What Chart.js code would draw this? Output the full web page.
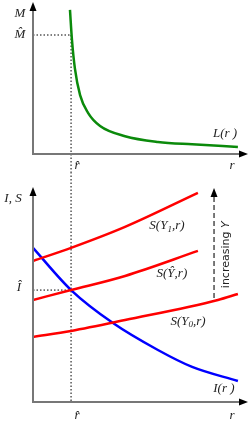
<!DOCTYPE html>
<html>
<head>
<meta charset="utf-8">
<script src="https://cdn.jsdelivr.net/npm/chart.js@4"></script>
<style>
  html, body { margin: 0; padding: 0; background: #fff; }
  #wrap { position: relative; width: 250px; height: 429px; }
  #moneyChart { position: absolute; left: 0; top: 0; }
  #savingChart { position: absolute; left: 0; top: 172px; }
</style>
</head>
<body>
<div id="wrap">
  <canvas id="moneyChart" width="250" height="172"></canvas>
  <canvas id="savingChart" width="250" height="257"></canvas>
</div>
<script>
// --- data (r on 0..10, M / I,S on 0..10) ---
// money demand L(r)
const lR = [1.72, 1.81, 1.95, 2.19, 2.56, 3.12, 4.28, 5.81, 7.40, 9.53];
const lM = [9.54, 7.6, 5.65, 3.9, 2.72, 1.85, 1.18, 0.80, 0.64, 0.47];

// savings S(Y1,r), S(Ŷ,r), S(Y0,r)
const s1R = [0, 1.77, 4.28, 7.67];
const s1 = [6.59, 7.20, 8.18, 9.77];
const sHatR = [0, 1.77, 4.28, 7.67];
const sHat = [4.77, 5.23, 5.89, 7.06];
const s0R = [0, 1.77, 4.28, 8.60, 9.53];
const s0 = [3.04, 3.32, 3.83, 4.77, 5.05];

// investment I(r)
const iR = [0, 1.77, 3.72, 5.81, 7.40, 9.53];
const iVals = [7.20, 5.23, 3.69, 2.43, 1.64, 0.98];

// equilibrium
const rHat = 1.77;
const mHat = 7.88;
const iHat = 5.23;

const axisColor = '#777777';
const serif = "'Liberation Serif', 'DejaVu Serif', serif";

function pts(xs, ys) {
  return xs.map((x, i) => ({ x: x, y: ys[i] }));
}

function curve(data, color) {
  return {
    data: data,
    borderColor: color,
    borderWidth: 2.5,
    pointRadius: 0,
    fill: false,
    cubicInterpolationMode: 'monotone',
  };
}

function arrowHead(ctx, x, y, dir) {
  ctx.beginPath();
  if (dir === 'up') {
    ctx.moveTo(x, y);
    ctx.lineTo(x - 3.5, y + 9);
    ctx.lineTo(x + 3.5, y + 9);
  } else {
    ctx.moveTo(x, y);
    ctx.lineTo(x - 9, y - 3.5);
    ctx.lineTo(x - 9, y + 3.5);
  }
  ctx.closePath();
  ctx.fill();
}

// draws text made of pieces, some of them subscripts, centred on (cx, cy)
function richText(ctx, pieces, cx, cy, size) {
  const big = 'italic ' + size + 'px ' + serif;
  const small = 'italic ' + Math.round(size * 0.72) + 'px ' + serif;
  let w = 0;
  pieces.forEach(p => {
    ctx.font = p.sub ? small : big;
    w += ctx.measureText(p.t).width;
  });
  let x = cx - w / 2;
  ctx.textBaseline = 'middle';
  ctx.textAlign = 'left';
  pieces.forEach(p => {
    ctx.font = p.sub ? small : big;
    ctx.fillText(p.t, x, p.sub ? cy + size * 0.3 : cy);
    x += ctx.measureText(p.t).width;
  });
}

function dotted(ctx, x1, y1, x2, y2) {
  ctx.save();
  ctx.strokeStyle = '#000';
  ctx.lineWidth = 1;
  ctx.setLineDash([1.5, 2]);
  ctx.beginPath();
  ctx.moveTo(x1, y1);
  ctx.lineTo(x2, y2);
  ctx.stroke();
  ctx.restore();
}

function drawAxes(ctx, a) {
  ctx.save();
  ctx.strokeStyle = axisColor;
  ctx.lineWidth = 2;
  ctx.beginPath();
  ctx.moveTo(a.left, a.top + 4);
  ctx.lineTo(a.left, a.bottom);
  ctx.lineTo(a.right - 4, a.bottom);
  ctx.stroke();
  ctx.fillStyle = '#000';
  arrowHead(ctx, a.left, a.top - 1, 'up');
  arrowHead(ctx, a.right, a.bottom, 'right');
  ctx.restore();
}

const moneyGuides = {
  id: 'moneyGuides',
  beforeDatasetsDraw(chart) {
    const { ctx, chartArea: a, scales: { x, y } } = chart;
    const px = x.getPixelForValue(rHat);
    const py = y.getPixelForValue(mHat);
    dotted(ctx, a.left, py, px, py);
    dotted(ctx, px, py, px, chart.height);
  },
  afterDatasetsDraw(chart) {
    const { ctx, chartArea: a, scales: { x, y } } = chart;
    drawAxes(ctx, a);
    ctx.save();
    ctx.fillStyle = '#222';
    richText(ctx, [{ t: 'M' }], a.left - 13, y.getPixelForValue(9.3), 13);
    richText(ctx, [{ t: 'M\u0302' }], a.left - 13, y.getPixelForValue(mHat), 13);
    richText(ctx, [{ t: 'r\u0302' }], x.getPixelForValue(rHat) + 6, a.bottom + 12, 13);
    richText(ctx, [{ t: 'L(r )' }], x.getPixelForValue(8.93), y.getPixelForValue(1.35), 13);
    richText(ctx, [{ t: 'r' }], x.getPixelForValue(9.26), a.bottom + 12, 13);
    ctx.restore();
  },
};

const savingGuides = {
  id: 'savingGuides',
  beforeDatasetsDraw(chart) {
    const { ctx, chartArea: a, scales: { x, y } } = chart;
    const px = x.getPixelForValue(rHat);
    const py = y.getPixelForValue(iHat);
    dotted(ctx, a.left, py, px, py);
    dotted(ctx, px, 0, px, a.bottom);
  },
  afterDatasetsDraw(chart) {
    const { ctx, chartArea: a, scales: { x, y } } = chart;
    drawAxes(ctx, a);

    // dashed "increasing Y" arrow
    const ax = x.getPixelForValue(8.42);
    ctx.save();
    ctx.strokeStyle = '#333';
    ctx.lineWidth = 1.3;
    ctx.setLineDash([5, 3]);
    ctx.beginPath();
    ctx.moveTo(ax, y.getPixelForValue(4.86));
    ctx.lineTo(ax, a.top + 8);
    ctx.stroke();
    ctx.fillStyle = '#000';
    arrowHead(ctx, ax, a.top, 'up');
    ctx.restore();

    ctx.save();
    ctx.fillStyle = '#222';
    richText(ctx, [{ t: 'I, S' }], a.left - 20, y.getPixelForValue(9.5), 13);
    richText(ctx, [{ t: 'I\u0302' }], a.left - 14, y.getPixelForValue(iHat) - 2, 13);
    richText(ctx, [{ t: 'r\u0302' }], x.getPixelForValue(rHat) + 6, a.bottom + 14, 13);
    richText(ctx, [{ t: 'r' }], x.getPixelForValue(9.26), a.bottom + 14, 13);
    richText(ctx, [{ t: 'S(Y' }, { t: '1', sub: true }, { t: ',r)' }], x.getPixelForValue(6.23), y.getPixelForValue(8.23), 13);
    richText(ctx, [{ t: 'S(Y\u0302,r)' }], x.getPixelForValue(6.46), y.getPixelForValue(6.0), 13);
    richText(ctx, [{ t: 'S(Y' }, { t: '0', sub: true }, { t: ',r)' }], x.getPixelForValue(7.21), y.getPixelForValue(3.78), 13);
    richText(ctx, [{ t: 'I(r )' }], x.getPixelForValue(8.88), y.getPixelForValue(0.65), 13);

    // rotated "increasing Y"
    ctx.translate(x.getPixelForValue(8.98), y.getPixelForValue(6.88));
    ctx.rotate(-Math.PI / 2);
    ctx.textBaseline = 'middle';
    ctx.font = "11px 'DejaVu Sans', sans-serif";
    const w1 = ctx.measureText('increasing ').width;
    ctx.font = "italic 11px 'DejaVu Sans', sans-serif";
    const w2 = ctx.measureText('Y').width;
    ctx.font = "11px 'DejaVu Sans', sans-serif";
    ctx.fillText('increasing ', -(w1 + w2) / 2, 0);
    ctx.font = "italic 11px 'DejaVu Sans', sans-serif";
    ctx.fillText('Y', -(w1 + w2) / 2 + w1, 0);
    ctx.restore();
  },
};

function baseOptions(padding) {
  return {
    responsive: false,
    animation: false,
    layout: { padding: padding },
    plugins: { legend: { display: false }, tooltip: { enabled: false } },
    scales: {
      x: { type: 'linear', min: 0, max: 10, display: false },
      y: { type: 'linear', min: 0, max: 10, display: false },
    },
  };
}

new Chart(document.getElementById('moneyChart'), {
  type: 'line',
  data: {
    datasets: [curve(pts(lR, lM), '#0b8a0b')],
  },
  options: baseOptions({ left: 33, right: 2, top: 3, bottom: 18 }),
  plugins: [moneyGuides],
});

new Chart(document.getElementById('savingChart'), {
  type: 'line',
  data: {
    datasets: [
      curve(pts(s1R, s1), '#ff0000'),
      curve(pts(sHatR, sHat), '#ff0000'),
      curve(pts(s0R, s0), '#ff0000'),
      curve(pts(iR, iVals), '#0000ff'),
    ],
  },
  options: baseOptions({ left: 33, right: 2, top: 16, bottom: 27 }),
  plugins: [savingGuides],
});
</script>
</body>
</html>
